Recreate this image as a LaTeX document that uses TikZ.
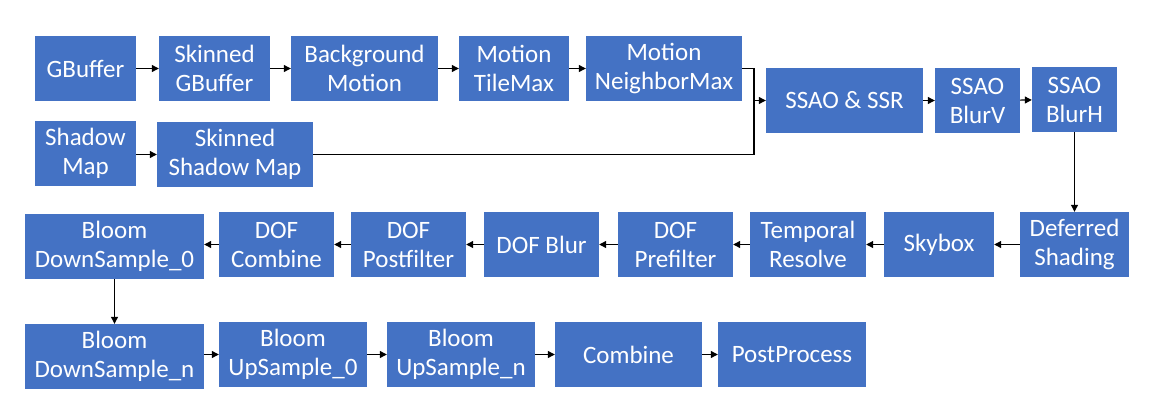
\documentclass[tikz,border=0pt]{standalone}
\usepackage{fontspec}
\setmainfont{Carlito}
\usetikzlibrary{arrows.meta}
\definecolor{offblue}{HTML}{4472C4}
\begin{document}
\begin{tikzpicture}[x=1pt,y=-1pt,
  blk/.style={fill=offblue,text=white,inner sep=0pt,minimum height=65pt,align=center,
    font=\fontsize{25}{29}\selectfont},
  conn/.style={line width=1.1pt,-{Triangle[length=7pt,width=7pt]}},
  plain/.style={line width=1.1pt}]
\useasboundingbox (0,0) rectangle (1162,418);
\node[blk,minimum width=101pt] (gbuf) at (85.5,68.5) {GBuffer};
\node[blk,minimum width=111pt] (sgbuf) at (214.5,68.5) {Skinned\\GBuffer};
\node[blk,minimum width=147pt] (bgm) at (364.5,68.5) {Background\\Motion};
\node[blk,minimum width=110pt] (tile) at (514,68.5) {Motion\\TileMax};
\node[blk,minimum width=156pt] (nmax) at (664,68.5) {Motion\\NeighborMax};
\node[blk,minimum width=101pt] (shadow) at (85.5,153.5) {Shadow\\Map};
\node[blk,minimum width=156pt] (sshadow) at (235,154.5) {Skinned\\Shadow Map};
\node[blk,minimum width=157pt] (ssao) at (844.5,100.5) {SSAO \& SSR};
\node[blk,minimum width=85pt] (blurv) at (977.5,100.5) {SSAO\\BlurV};
\node[blk,minimum width=85pt] (blurh) at (1074.5,99.5) {SSAO\\BlurH};
\node[blk,minimum width=109pt] (def) at (1074.5,244.5) {Deferred\\Shading};
\node[blk,minimum width=110pt] (sky) at (939,244.5) {Skybox};
\node[blk,minimum width=116pt] (temp) at (808,244.5) {Temporal\\Resolve};
\node[blk,minimum width=115pt] (pre) at (675.5,244.5) {DOF\\Prefilter};
\node[blk,minimum width=115pt] (dblur) at (541.5,244.5) {DOF Blur};
\node[blk,minimum width=115pt] (postf) at (408.5,244.5) {DOF\\Postfilter};
\node[blk,minimum width=115pt] (dcomb) at (276.5,244.5) {DOF\\Combine};
\node[blk,minimum width=179pt] (bd0) at (114.5,246.5) {Bloom\\DownSample\_0};
\node[blk,minimum width=179pt] (bdn) at (114.5,356.5) {Bloom\\DownSample\_n};
\node[blk,minimum width=148pt] (bu0) at (293,354.5) {Bloom\\UpSample\_0};
\node[blk,minimum width=148pt] (bun) at (461,354.5) {Bloom\\UpSample\_n};
\node[blk,minimum width=147pt] (combine) at (628.5,354.5) {Combine};
\node[blk,minimum width=148pt] (pp) at (792,354.5) {PostProcess};
\coordinate (j) at (754,100.5);
\draw[conn] (gbuf) -- (sgbuf);
\draw[conn] (sgbuf) -- (bgm);
\draw[conn] (bgm) -- (tile);
\draw[conn] (tile) -- (nmax);
\draw[conn] (shadow.east |- sshadow) -- (sshadow);
\draw[conn] (nmax.east) -| (j) -- (ssao.west);
\draw[plain] (sshadow.east) -| (j);
\draw[conn] (ssao) -- (blurv);
\draw[conn] (blurv) -- (blurh);
\draw[conn] (blurh) -- (def);
\draw[conn] (def) -- (sky);
\draw[conn] (sky) -- (temp);
\draw[conn] (temp) -- (pre);
\draw[conn] (pre) -- (dblur);
\draw[conn] (dblur) -- (postf);
\draw[conn] (postf) -- (dcomb);
\draw[conn] (dcomb) -- (bd0.east |- dcomb);
\draw[conn] (bd0) -- (bdn);
\draw[conn] (bdn.east |- bu0) -- (bu0);
\draw[conn] (bu0) -- (bun);
\draw[conn] (bun) -- (combine);
\draw[conn] (combine) -- (pp);
\end{tikzpicture}
\end{document}
